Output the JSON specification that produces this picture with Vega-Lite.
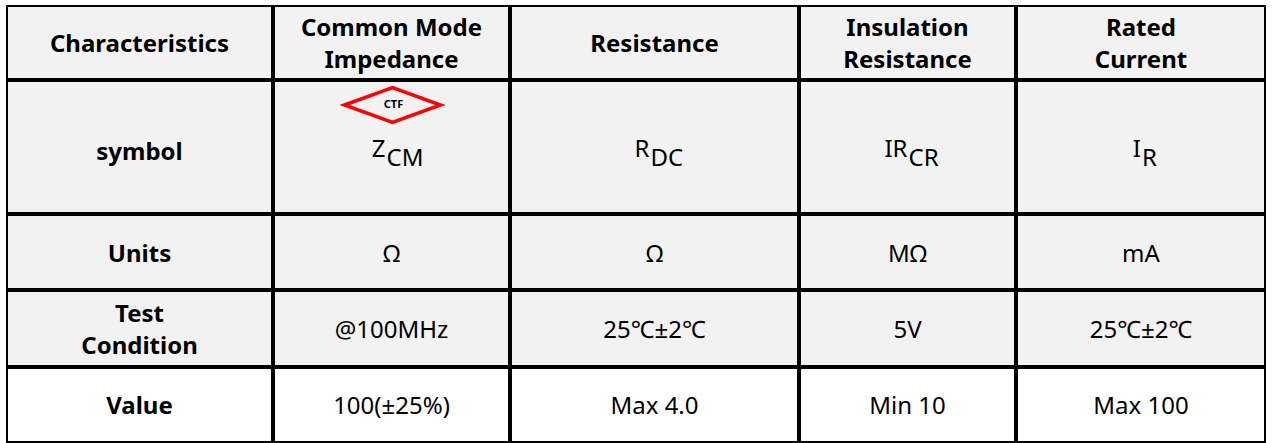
{
  "$schema": "https://vega.github.io/schema/vega-lite/v6.json",
  "padding": {"left": 6, "top": 5, "right": 0, "bottom": 0},
  "background": "#ffffff",
  "data": {"values": [
    {"row": "head", "col": "c0", "text": "Characteristics"},
    {"row": "head", "col": "c1", "text": "Common Mode\nImpedance"},
    {"row": "head", "col": "c2", "text": "Resistance"},
    {"row": "head", "col": "c3", "text": "Insulation\nResistance"},
    {"row": "head", "col": "c4", "text": "Rated\nCurrent"},
    {"row": "symbol", "col": "c0", "text": "symbol"},
    {"row": "symbol", "col": "c1", "text": "Z", "sub": "CM", "badge": "CTF"},
    {"row": "symbol", "col": "c2", "text": "R", "sub": "DC"},
    {"row": "symbol", "col": "c3", "text": "IR", "sub": "CR"},
    {"row": "symbol", "col": "c4", "text": "I", "sub": "R"},
    {"row": "units", "col": "c0", "text": "Units"},
    {"row": "units", "col": "c1", "text": "Ω"},
    {"row": "units", "col": "c2", "text": "Ω"},
    {"row": "units", "col": "c3", "text": "MΩ"},
    {"row": "units", "col": "c4", "text": "mA"},
    {"row": "test", "col": "c0", "text": "Test\nCondition"},
    {"row": "test", "col": "c1", "text": "@100MHz"},
    {"row": "test", "col": "c2", "text": "25℃±2℃"},
    {"row": "test", "col": "c3", "text": "5V"},
    {"row": "test", "col": "c4", "text": "25℃±2℃"},
    {"row": "value", "col": "c0", "text": "Value"},
    {"row": "value", "col": "c1", "text": "100(±25%)"},
    {"row": "value", "col": "c2", "text": "Max 4.0"},
    {"row": "value", "col": "c3", "text": "Min 10"},
    {"row": "value", "col": "c4", "text": "Max 100"}
  ]},
  "spacing": 0,
  "vconcat": [
    {"spacing": 0, "hconcat": [
      {"width": 265, "height": 73, "transform": [{"filter": "datum.row=='head'&&datum.col=='c0'"}], "layer": [{"mark": {"type": "rect", "fill": "#f2f2f2", "stroke": "#000000", "strokeWidth": 2, "opacity": 1}, "encoding": {}}, {"mark": {"type": "text", "style": "hdr", "dy": 2}, "encoding": {"text": {"field": "text"}}}]},
      {"width": 235, "height": 73, "transform": [{"filter": "datum.row=='head'&&datum.col=='c1'"}], "layer": [{"mark": {"type": "rect", "fill": "#f2f2f2", "stroke": "#000000", "strokeWidth": 2, "opacity": 1}, "encoding": {}}, {"mark": {"type": "text", "style": "hdr", "dy": -14}, "encoding": {"text": {"field": "text"}}}]},
      {"width": 287, "height": 73, "transform": [{"filter": "datum.row=='head'&&datum.col=='c2'"}], "layer": [{"mark": {"type": "rect", "fill": "#f2f2f2", "stroke": "#000000", "strokeWidth": 2, "opacity": 1}, "encoding": {}}, {"mark": {"type": "text", "style": "hdr", "dy": 2}, "encoding": {"text": {"field": "text"}}}]},
      {"width": 215, "height": 73, "transform": [{"filter": "datum.row=='head'&&datum.col=='c3'"}], "layer": [{"mark": {"type": "rect", "fill": "#f2f2f2", "stroke": "#000000", "strokeWidth": 2, "opacity": 1}, "encoding": {}}, {"mark": {"type": "text", "style": "hdr", "dy": -14}, "encoding": {"text": {"field": "text"}}}]},
      {"width": 248, "height": 73, "transform": [{"filter": "datum.row=='head'&&datum.col=='c4'"}], "layer": [{"mark": {"type": "rect", "fill": "#f2f2f2", "stroke": "#000000", "strokeWidth": 2, "opacity": 1}, "encoding": {}}, {"mark": {"type": "text", "style": "hdr", "dy": -14}, "encoding": {"text": {"field": "text"}}}]}
    ]},
    {"spacing": 0, "hconcat": [
      {"width": 265, "height": 132, "transform": [{"filter": "datum.row=='symbol'&&datum.col=='c0'"}], "layer": [{"mark": {"type": "rect", "fill": "#f2f2f2", "stroke": "#000000", "strokeWidth": 2, "opacity": 1}, "encoding": {}}, {"mark": {"type": "text", "style": "hdr", "dy": 6}, "encoding": {"text": {"field": "text"}}}]},
      {"width": 235, "height": 132, "transform": [{"filter": "datum.row=='symbol'&&datum.col=='c1'"}], "layer": [
        {"mark": {"type": "rect", "fill": "#f2f2f2", "stroke": "#000000", "strokeWidth": 2, "opacity": 1}, "encoding": {}},
        {"mark": {"type": "point", "shape": "M-1,0L0,-0.364L1,0L0,0.364Z", "size": 9216, "filled": false, "stroke": "#ff0000", "strokeWidth": 3.5, "opacity": 1, "xOffset": 1, "yOffset": -42}, "encoding": {}},
        {"mark": {"type": "text", "fontWeight": "bold", "fontSize": 11, "dx": 2, "dy": -42}, "encoding": {"text": {"field": "badge"}}},
        {"mark": {"type": "text", "style": "symmain", "dx": -6}, "encoding": {"text": {"field": "text"}}},
        {"mark": {"type": "text", "style": "symsub", "dx": -5}, "encoding": {"text": {"field": "sub"}}}
      ]},
      {"width": 287, "height": 132, "transform": [{"filter": "datum.row=='symbol'&&datum.col=='c2'"}], "layer": [
        {"mark": {"type": "rect", "fill": "#f2f2f2", "stroke": "#000000", "strokeWidth": 2, "opacity": 1}, "encoding": {}},
        {"mark": {"type": "text", "style": "symmain", "dx": -5}, "encoding": {"text": {"field": "text"}}},
        {"mark": {"type": "text", "style": "symsub", "dx": -4}, "encoding": {"text": {"field": "sub"}}}
      ]},
      {"width": 215, "height": 132, "transform": [{"filter": "datum.row=='symbol'&&datum.col=='c3'"}], "layer": [
        {"mark": {"type": "rect", "fill": "#f2f2f2", "stroke": "#000000", "strokeWidth": 2, "opacity": 1}, "encoding": {}},
        {"mark": {"type": "text", "style": "symmain", "dx": 0}, "encoding": {"text": {"field": "text"}}},
        {"mark": {"type": "text", "style": "symsub", "dx": 1}, "encoding": {"text": {"field": "sub"}}}
      ]},
      {"width": 248, "height": 132, "transform": [{"filter": "datum.row=='symbol'&&datum.col=='c4'"}], "layer": [
        {"mark": {"type": "rect", "fill": "#f2f2f2", "stroke": "#000000", "strokeWidth": 2, "opacity": 1}, "encoding": {}},
        {"mark": {"type": "text", "style": "symmain", "dx": 0}, "encoding": {"text": {"field": "text"}}},
        {"mark": {"type": "text", "style": "symsub", "dx": 1}, "encoding": {"text": {"field": "sub"}}}
      ]}
    ]},
    {"spacing": 0, "hconcat": [
      {"width": 265, "height": 74, "transform": [{"filter": "datum.row=='units'&&datum.col=='c0'"}], "layer": [{"mark": {"type": "rect", "fill": "#f2f2f2", "stroke": "#000000", "strokeWidth": 2, "opacity": 1}, "encoding": {}}, {"mark": {"type": "text", "style": "hdr", "dy": 3}, "encoding": {"text": {"field": "text"}}}]},
      {"width": 235, "height": 74, "transform": [{"filter": "datum.row=='units'&&datum.col=='c1'"}], "layer": [{"mark": {"type": "rect", "fill": "#f2f2f2", "stroke": "#000000", "strokeWidth": 2, "opacity": 1}, "encoding": {}}, {"mark": {"type": "text", "style": "body", "dy": 3}, "encoding": {"text": {"field": "text"}}}]},
      {"width": 287, "height": 74, "transform": [{"filter": "datum.row=='units'&&datum.col=='c2'"}], "layer": [{"mark": {"type": "rect", "fill": "#f2f2f2", "stroke": "#000000", "strokeWidth": 2, "opacity": 1}, "encoding": {}}, {"mark": {"type": "text", "style": "body", "dy": 3}, "encoding": {"text": {"field": "text"}}}]},
      {"width": 215, "height": 74, "transform": [{"filter": "datum.row=='units'&&datum.col=='c3'"}], "layer": [{"mark": {"type": "rect", "fill": "#f2f2f2", "stroke": "#000000", "strokeWidth": 2, "opacity": 1}, "encoding": {}}, {"mark": {"type": "text", "style": "body", "dy": 3}, "encoding": {"text": {"field": "text"}}}]},
      {"width": 248, "height": 74, "transform": [{"filter": "datum.row=='units'&&datum.col=='c4'"}], "layer": [{"mark": {"type": "rect", "fill": "#f2f2f2", "stroke": "#000000", "strokeWidth": 2, "opacity": 1}, "encoding": {}}, {"mark": {"type": "text", "style": "body", "dy": 3}, "encoding": {"text": {"field": "text"}}}]}
    ]},
    {"spacing": 0, "hconcat": [
      {"width": 265, "height": 75, "transform": [{"filter": "datum.row=='test'&&datum.col=='c0'"}], "layer": [{"mark": {"type": "rect", "fill": "#f2f2f2", "stroke": "#000000", "strokeWidth": 2, "opacity": 1}, "encoding": {}}, {"mark": {"type": "text", "style": "hdr", "dy": -14}, "encoding": {"text": {"field": "text"}}}]},
      {"width": 235, "height": 75, "transform": [{"filter": "datum.row=='test'&&datum.col=='c1'"}], "layer": [{"mark": {"type": "rect", "fill": "#f2f2f2", "stroke": "#000000", "strokeWidth": 2, "opacity": 1}, "encoding": {}}, {"mark": {"type": "text", "style": "body", "dy": 2}, "encoding": {"text": {"field": "text"}}}]},
      {"width": 287, "height": 75, "transform": [{"filter": "datum.row=='test'&&datum.col=='c2'"}], "layer": [{"mark": {"type": "rect", "fill": "#f2f2f2", "stroke": "#000000", "strokeWidth": 2, "opacity": 1}, "encoding": {}}, {"mark": {"type": "text", "style": "body", "dy": 2}, "encoding": {"text": {"field": "text"}}}]},
      {"width": 215, "height": 75, "transform": [{"filter": "datum.row=='test'&&datum.col=='c3'"}], "layer": [{"mark": {"type": "rect", "fill": "#f2f2f2", "stroke": "#000000", "strokeWidth": 2, "opacity": 1}, "encoding": {}}, {"mark": {"type": "text", "style": "body", "dy": 2}, "encoding": {"text": {"field": "text"}}}]},
      {"width": 248, "height": 75, "transform": [{"filter": "datum.row=='test'&&datum.col=='c4'"}], "layer": [{"mark": {"type": "rect", "fill": "#f2f2f2", "stroke": "#000000", "strokeWidth": 2, "opacity": 1}, "encoding": {}}, {"mark": {"type": "text", "style": "body", "dy": 2}, "encoding": {"text": {"field": "text"}}}]}
    ]},
    {"spacing": 0, "hconcat": [
      {"width": 265, "height": 74, "transform": [{"filter": "datum.row=='value'&&datum.col=='c0'"}], "layer": [{"mark": {"type": "rect", "fill": "#ffffff", "stroke": "#000000", "strokeWidth": 2, "opacity": 1}, "encoding": {}}, {"mark": {"type": "text", "style": "hdr", "dy": 2}, "encoding": {"text": {"field": "text"}}}]},
      {"width": 235, "height": 74, "transform": [{"filter": "datum.row=='value'&&datum.col=='c1'"}], "layer": [{"mark": {"type": "rect", "fill": "#ffffff", "stroke": "#000000", "strokeWidth": 2, "opacity": 1}, "encoding": {}}, {"mark": {"type": "text", "style": "body", "dy": 2}, "encoding": {"text": {"field": "text"}}}]},
      {"width": 287, "height": 74, "transform": [{"filter": "datum.row=='value'&&datum.col=='c2'"}], "layer": [{"mark": {"type": "rect", "fill": "#ffffff", "stroke": "#000000", "strokeWidth": 2, "opacity": 1}, "encoding": {}}, {"mark": {"type": "text", "style": "body", "dy": 2}, "encoding": {"text": {"field": "text"}}}]},
      {"width": 215, "height": 74, "transform": [{"filter": "datum.row=='value'&&datum.col=='c3'"}], "layer": [{"mark": {"type": "rect", "fill": "#ffffff", "stroke": "#000000", "strokeWidth": 2, "opacity": 1}, "encoding": {}}, {"mark": {"type": "text", "style": "body", "dy": 2}, "encoding": {"text": {"field": "text"}}}]},
      {"width": 248, "height": 74, "transform": [{"filter": "datum.row=='value'&&datum.col=='c4'"}], "layer": [{"mark": {"type": "rect", "fill": "#ffffff", "stroke": "#000000", "strokeWidth": 2, "opacity": 1}, "encoding": {}}, {"mark": {"type": "text", "style": "body", "dy": 2}, "encoding": {"text": {"field": "text"}}}]}
    ]}
  ],
  "config": {
    "view": {"stroke": null},
    "concat": {"spacing": 0},
    "text": {"font": "Noto Sans", "fontSize": 24, "color": "#000000", "lineBreak": "\n", "lineHeight": 32},
    "style": {
      "hdr": {"font": "Noto Sans", "fontWeight": "bold", "fontSize": 24},
      "body": {"font": "Noto Sans", "fontWeight": "normal", "fontSize": 24},
      "symmain": {"font": "Noto Sans", "fontSize": 24, "align": "right", "dy": 3},
      "symsub": {"font": "Noto Sans", "fontSize": 14, "align": "left", "dy": 12}
    }
  }
}
